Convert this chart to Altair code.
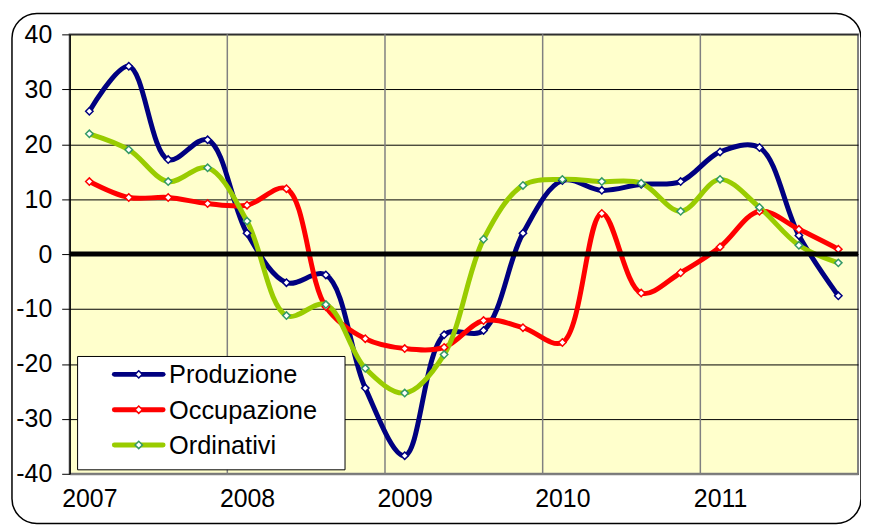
import altair as alt
import pandas as pd

years = [2007, 2008, 2009, 2010, 2011]
quarters = list(range(20))
series = ["Produzione", "Occupazione", "Ordinativi"]
produzione = [26.0, 34.2, 17.2, 20.8, 3.8, -5.2, -3.8, -24.4, -36.7, -14.7,
              -13.9, 3.8, 13.4, 11.6, 12.7, 13.2, 18.6, 19.4, 3.4, -7.6]
occupazione = [13.2, 10.3, 10.3, 9.2, 8.9, 11.9, -9.6, -15.4, -17.2, -17.0,
               -12.1, -13.4, -16.1, 7.4, -7.1, -3.4, 1.3, 7.8, 4.5, 0.9]
ordinativi = [21.9, 19.0, 13.2, 15.7, 6.0, -11.2, -9.2, -20.8, -25.3, -18.3,
              2.7, 12.5, 13.6, 13.2, 12.9, 7.8, 13.6, 8.5, 1.6, -1.6]
line_colors = ["#000080", "#FF0000", "#99CC00"]
marker_colors = ["#000080", "#FF0000", "#339966"]
y_ticks = [-40, -30, -20, -10, 0, 10, 20, 30, 40]

rows = []
for name, vals in zip(series, [produzione, occupazione, ordinativi]):
    for q, v in zip(quarters, vals):
        rows.append({"serie": name, "q": q, "v": v})
df = pd.DataFrame(rows)

boundaries = pd.DataFrame({"b": [4 * k - 0.5 for k in range(1, len(years))]})
zero_df = pd.DataFrame({"z": [0]})
one = pd.DataFrame({"a": [0]})

FONT = "Liberation Sans"
xscale = alt.Scale(domain=[-0.5, 19.5], nice=False, zero=False)
yscale = alt.Scale(domain=[-40, 40], nice=False)

x_axis = alt.Axis(values=[0, 4, 8, 12, 16],
                  labelExpr=f"{years[0]} + floor(datum.value / 4)",
                  grid=False, ticks=False, domainColor="#808080", domainWidth=2,
                  labelFontSize=25, labelPadding=13, title=None, labelFont=FONT,
                  labelColor="black")
y_axis = alt.Axis(values=y_ticks, grid=True, gridColor="black", gridWidth=1,
                  tickColor="black", tickSize=8, tickWidth=1, domainColor="black",
                  domainWidth=1.5, labelFontSize=25, labelPadding=10, title=None,
                  labelFont=FONT, labelColor="black", labelExpr="'' + datum.value")

X = alt.X("q:Q", scale=xscale, axis=x_axis)
Y = alt.Y("v:Q", scale=yscale, axis=y_axis)

# outer chart frame (rounded)
frame = alt.Chart(one).mark_rect(
    fillOpacity=0, stroke="black", strokeWidth=1.5, cornerRadius=25
).encode(x=alt.value(-58), x2=alt.value(796), y=alt.value(-21), y2=alt.value(492))

vrules = alt.Chart(boundaries).mark_rule(color="#808080", strokeWidth=1.5).encode(
    x=alt.X("b:Q", scale=xscale, axis=x_axis)
)

layers = [frame, vrules]
for i, name in enumerate(series):
    layers.append(
        alt.Chart(df).transform_filter(alt.datum.serie == name)
        .mark_line(strokeWidth=5, interpolate="catmull-rom", color=line_colors[i])
        .encode(x=X, y=Y)
    )

for i, name in enumerate(series):
    layers.append(
        alt.Chart(df).transform_filter(alt.datum.serie == name)
        .mark_point(shape="diamond", filled=False, fill="white", fillOpacity=1,
                    size=55, strokeWidth=1.5, opacity=1, stroke=marker_colors[i])
        .encode(x=X, y=Y)
    )

zero = alt.Chart(zero_df).mark_rule(color="black", strokeWidth=5).encode(
    y=alt.Y("z:Q", scale=yscale, axis=y_axis)
)
layers.append(zero)

# legend (drawn manually to reproduce line + diamond symbols)
legend_box = alt.Chart(one).mark_rect(
    fill="white", stroke="black", strokeWidth=1
).encode(x=alt.value(8), x2=alt.value(277), y=alt.value(324), y2=alt.value(438))
layers.append(legend_box)

legend_df = pd.DataFrame({"serie": series})
row_y = [342, 377.5, 413]
for i, name in enumerate(series):
    ldf = legend_df[legend_df["serie"] == name]
    layers.append(
        alt.Chart(ldf).mark_rule(strokeWidth=5, color=line_colors[i], strokeCap="round")
        .encode(x=alt.value(45), x2=alt.value(94), y=alt.value(row_y[i]))
    )
    layers.append(
        alt.Chart(ldf).mark_point(shape="diamond", filled=False, fill="white",
                                  fillOpacity=1, size=55, strokeWidth=1.5,
                                  opacity=1, stroke=marker_colors[i])
        .encode(x=alt.value(69.5), y=alt.value(row_y[i]))
    )
    layers.append(
        alt.Chart(ldf).mark_text(align="left", baseline="middle", font=FONT,
                                 fontSize=25.5, color="black", dy=1)
        .encode(x=alt.value(100), y=alt.value(row_y[i]), text="serie:N")
    )

chart = alt.layer(*layers).properties(
    width=793, height=442,
    padding={"left": 62, "top": 25, "right": 3, "bottom": 52},
    autosize=alt.AutoSizeParams(type="none"),
    background="white",
).configure_view(
    fill="#FFFFCC", stroke="#808080", strokeWidth=2
)

chart.save("out.html", embed_options={"renderer": "svg", "actions": False})
